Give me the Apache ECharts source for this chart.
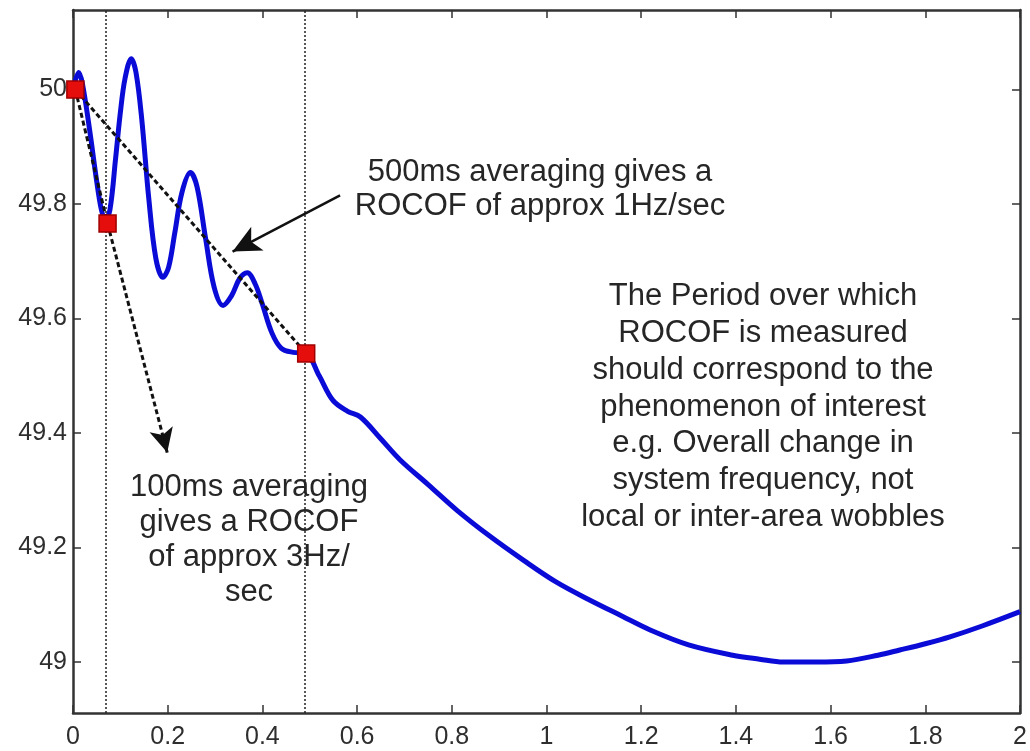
<!DOCTYPE html>
<html>
<head>
<meta charset="utf-8">
<title>ROCOF averaging</title>
<script src="https://cdn.jsdelivr.net/npm/echarts/dist/echarts.min.js"></script>
<style>
  html, body { margin: 0; padding: 0; background: #fff; }
  #rocofChart { width: 1030px; height: 751px; }
</style>
</head>
<body>
<div id="rocofChart"></div>
<script>
// frequency trace (s, Hz)
var timeS = [
  0.000, 0.012, 0.020, 0.035, 0.050, 0.060, 0.068, 0.078, 0.090, 0.100,
  0.110, 0.123, 0.133, 0.145, 0.160, 0.175, 0.190, 0.202, 0.215, 0.230,
  0.248, 0.262, 0.280, 0.298, 0.317, 0.335, 0.352, 0.368, 0.385, 0.400,
  0.420, 0.440, 0.465, 0.492, 0.520, 0.549, 0.580, 0.607, 0.650, 0.691,
  0.750, 0.811, 0.880, 0.951, 1.020, 1.092, 1.160, 1.219, 1.300, 1.393,
  1.450, 1.500, 1.570, 1.634, 1.700, 1.746, 1.800, 1.852, 1.920, 2.000
];
var freqHz = [
  50.000, 50.030, 50.010, 49.930, 49.840, 49.790, 49.772, 49.790, 49.880, 49.960,
  50.020, 50.054, 50.030, 49.950, 49.810, 49.705, 49.672, 49.690, 49.750, 49.820,
  49.855, 49.830, 49.740, 49.655, 49.623, 49.640, 49.670, 49.680, 49.660, 49.625,
  49.575, 49.548, 49.541, 49.539, 49.500, 49.457, 49.438, 49.428, 49.390, 49.353,
  49.310, 49.265, 49.220, 49.178, 49.140, 49.108, 49.080, 49.056, 49.030, 49.012,
  49.005, 49.000, 49.000, 49.002, 49.012, 49.021, 49.032, 49.044, 49.063, 49.088
];

// averaging window end points
var markerT = [0.005, 0.073, 0.4925];
var markerF = [50.0, 49.766, 49.539];
var windowLines = [0.074, 0.49];

// arrows [from, to]
var arrow100 = [[0.073, 49.766], [0.199, 49.366]];
var arrow500 = [[0.564, 49.815], [0.337, 49.717]];

var yTicks = [49, 49.2, 49.4, 49.6, 49.8, 50];

var textFont = '"Liberation Sans", Arial, sans-serif';
var textColor = '#262626';
var axisColor = '#333';

function pairs(xs, ys) {
  var res = [];
  for (var i = 0; i < xs.length; i++) {
    res.push([xs[i], ys[i]]);
  }
  return res;
}

var trace = pairs(timeS, freqHz);
var markers = pairs(markerT, markerF);

function boxAxis(pos, show) {
  return {
    type: 'value',
    position: pos,
    axisLine: { show: true, onZero: false, lineStyle: { color: axisColor, width: 2.5 } },
    axisTick: { show: true, inside: true, length: 8, lineStyle: { color: axisColor, width: 1.5 } },
    splitLine: { show: false },
    axisLabel: {
      show: show,
      color: '#2e2e2e',
      fontSize: 25,
      fontFamily: textFont
    }
  };
}

var xBottom = boxAxis('bottom', true);
xBottom.min = 0;
xBottom.max = 2;
xBottom.interval = 0.2;
xBottom.axisLabel.margin = 12;
var xTop = boxAxis('top', false);
xTop.min = 0;
xTop.max = 2;
xTop.interval = 0.2;

var yLeft = boxAxis('left', true);
yLeft.min = 48.911;
yLeft.max = 50.139;
yLeft.axisLabel.customValues = yTicks;
yLeft.axisTick.customValues = yTicks;
yLeft.axisLabel.margin = 6;
var yRight = boxAxis('right', false);
yRight.min = 48.911;
yRight.max = 50.139;
yRight.axisLabel.customValues = yTicks;
yRight.axisTick.customValues = yTicks;

var dashStyle = { color: '#111', width: 3, type: [5, 3] };

var option = {
  backgroundColor: '#fff',
  animation: false,
  grid: { left: 73, right: 10, top: 10, bottom: 38 },
  xAxis: [xBottom, xTop],
  yAxis: [yLeft, yRight],
  series: [
    {
      // dotted window boundaries
      type: 'line',
      data: [],
      markLine: {
        silent: true,
        symbol: ['none', 'none'],
        label: { show: false },
        lineStyle: { color: '#222', width: 1.5, type: [2, 2] },
        data: windowLines.map(function (t) { return { xAxis: t }; })
      }
    },
    {
      name: 'frequency',
      type: 'line',
      data: trace,
      smooth: 0.35,
      showSymbol: false,
      lineStyle: { color: '#0b0bd8', width: 5 },
      z: 3
    },
    {
      // 500ms average
      type: 'line',
      data: [markers[0], markers[2]],
      showSymbol: false,
      lineStyle: dashStyle,
      z: 4
    },
    {
      // 100ms average + arrow
      type: 'line',
      data: [markers[0], markers[1]],
      showSymbol: false,
      lineStyle: dashStyle,
      z: 4,
      markLine: {
        silent: true,
        label: { show: false },
        symbol: ['none', 'arrow'],
        symbolSize: [18, 24],
        lineStyle: { color: '#111', width: 3, type: [5, 3] },
        data: [[{ coord: arrow100[0] }, { coord: arrow100[1] }]]
      }
    },
    {
      type: 'line',
      data: [],
      markLine: {
        silent: true,
        label: { show: false },
        symbol: ['none', 'arrow'],
        symbolSize: [20, 28],
        lineStyle: { color: '#111', width: 2.5, type: 'solid' },
        data: [[{ coord: arrow500[0] }, { coord: arrow500[1] }]]
      }
    },
    {
      type: 'scatter',
      data: markers,
      symbol: 'rect',
      symbolSize: 17,
      itemStyle: { color: '#e60d0d', borderColor: '#a00000', borderWidth: 1.5, opacity: 1 },
      z: 5
    }
  ],
  graphic: [
    {
      type: 'text',
      x: 540,
      y: 189,
      style: {
        text: '500ms averaging gives a\nROCOF of approx 1Hz/sec',
        font: '31px ' + textFont,
        fill: textColor,
        align: 'center',
        verticalAlign: 'middle',
        lineHeight: 34
      }
    },
    {
      type: 'text',
      x: 763,
      y: 407,
      style: {
        text: 'The Period over which\nROCOF is measured\nshould correspond to the\nphenomenon of interest\ne.g. Overall change in\nsystem frequency, not\nlocal or inter-area wobbles',
        font: '31px ' + textFont,
        fill: textColor,
        align: 'center',
        verticalAlign: 'middle',
        lineHeight: 36.7
      }
    },
    {
      type: 'text',
      x: 249,
      y: 540,
      style: {
        text: '100ms averaging\ngives a ROCOF\nof approx 3Hz/\nsec',
        font: '31px ' + textFont,
        fill: textColor,
        align: 'center',
        verticalAlign: 'middle',
        lineHeight: 34.7
      }
    }
  ]
};

var rocofChart = echarts.init(document.getElementById('rocofChart'));
rocofChart.setOption(option);
</script>
</body>
</html>
